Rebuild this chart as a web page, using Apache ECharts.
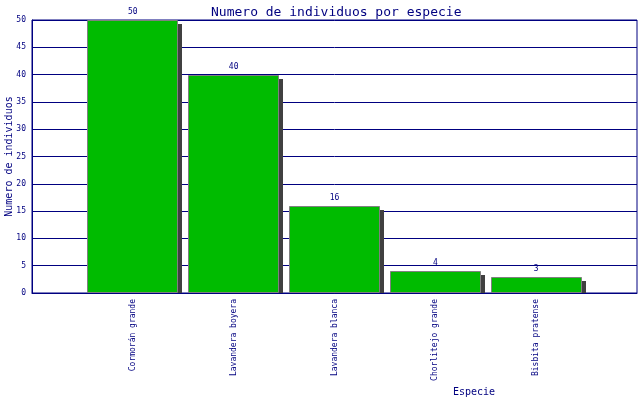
<!DOCTYPE html>
<html>
<head>
<meta charset="utf-8">
<script src="https://cdn.jsdelivr.net/npm/echarts@6/dist/echarts.min.js"></script>
<style>html,body{margin:0;padding:0;background:#fff}#c{width:640px;height:400px}</style>
</head>
<body>
<div id="c"></div>
<script>
const titleText = 'Numero de individuos por especie';
const xName = 'Especie';
const yName = 'Numero de individuos';
const categories = ['Cormorán grande', 'Lavandera boyera', 'Lavandera blanca', 'Chorlitejo grande', 'Bisbita pratense'];
const values = [50, 40, 16, 4, 3];
const yMin = 0, yMax = 50, yStep = 5;

const NAVY = '#000080';
const FONT = 'DejaVu Sans Mono';
const axisData = [''].concat(categories, ['']);
const seriesData = [];
values.forEach(function (v, i) { seriesData.push([i + 1, v]); });

function renderBar(params, api) {
  const idx = api.value(0);
  const val = api.value(1);
  const top = api.coord([idx, val]);
  const base = api.coord([idx, 0]);
  const w = Math.round(api.size([1, 0])[0] * 0.9);
  const x0 = Math.round(top[0] - w / 2);
  const y0 = Math.round(top[1]);
  const h = Math.round(base[1]) - y0;
  return {
    type: 'group',
    children: [
      {type: 'rect', shape: {x: x0 + 4, y: y0 + 4, width: w, height: Math.max(h - 4, 0)},
        style: {fill: '#404040'}},
      {type: 'rect', shape: {x: x0 + 0.5, y: y0 + 0.5, width: w - 1, height: h - 1},
        style: {fill: '#00bb00', stroke: '#808080', lineWidth: 1}},
      {type: 'text', x: top[0], y: y0 - 4,
        style: {text: String(val), fill: NAVY, font: '8px "DejaVu Sans Mono"', align: 'center', verticalAlign: 'bottom'}}
    ]
  };
}

const chart = echarts.init(document.getElementById('c'));
chart.setOption({
  animation: false,
  backgroundColor: '#ffffff',
  title: {
    text: titleText, left: 206, top: 1,
    textStyle: {color: NAVY, fontFamily: FONT, fontSize: 13, fontWeight: 'normal'}
  },
  grid: {left: 32, right: 3, top: 20, bottom: 107, show: true, borderColor: NAVY, borderWidth: 1,
    containLabel: false, outerBoundsMode: 'none'},
  xAxis: {
    type: 'category', data: axisData, boundaryGap: false,
    axisLine: {show: true, lineStyle: {color: NAVY, width: 1}},
    axisTick: {show: false},
    axisLabel: {interval: 0, rotate: 90, margin: 6, color: NAVY, fontFamily: FONT, fontSize: 8},
    splitLine: {show: false}
  },
  yAxis: {
    type: 'value', min: yMin, max: yMax, interval: yStep,
    name: yName, nameLocation: 'middle', nameGap: 18, nameMoveOverlap: false,
    nameTextStyle: {color: NAVY, fontFamily: FONT, fontSize: 10},
    axisLine: {show: true, lineStyle: {color: NAVY, width: 1}},
    axisTick: {show: false},
    axisLabel: {margin: 6, color: NAVY, fontFamily: FONT, fontSize: 8},
    splitLine: {show: true, lineStyle: {color: NAVY, width: 1}}
  },
  graphic: [{
    type: 'text', left: 453, top: 387,
    style: {text: xName, fill: NAVY, font: '10px "DejaVu Sans Mono"'}
  }],
  series: [{
    type: 'custom', data: seriesData, renderItem: renderBar,
    encode: {x: 0, y: 1}, clip: false
  }]
});
</script>
</body>
</html>
